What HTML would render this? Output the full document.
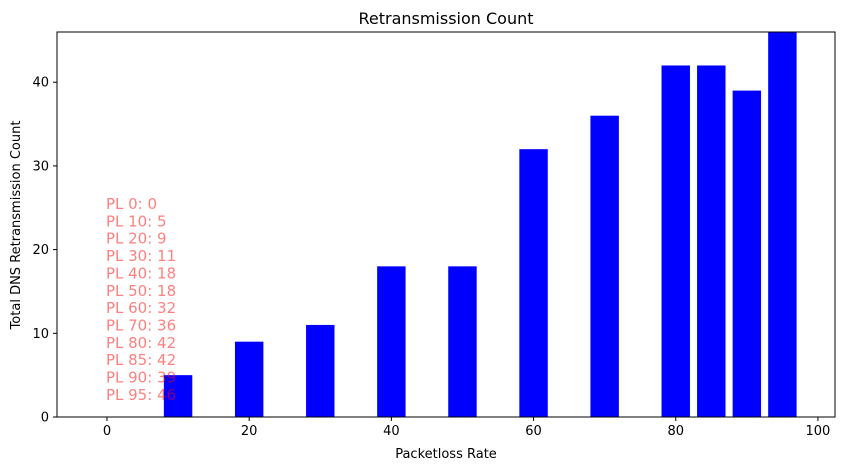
<!DOCTYPE html>
<html><head><meta charset="utf-8"><style>
body{margin:0;background:#fff;}
svg{display:block;font-family:"DejaVu Sans","Liberation Sans",sans-serif;}
</style></head><body>
<svg id="chart" width="841" height="470" xmlns="http://www.w3.org/2000/svg">
<rect width="841" height="470" fill="#fff"/>
<text x="446" y="24" font-size="16" text-anchor="middle">Retransmission Count</text>
<g id="plot"></g>
<text x="446" y="458" font-size="13" text-anchor="middle">Packetloss Rate</text>
<text transform="translate(20,225) rotate(-90)" font-size="13" text-anchor="middle">Total DNS Retransmission Count</text>
</svg>
<script>
const categories = [0,10,20,30,40,50,60,70,80,85,90,95];
const counts = [0,5,9,11,18,18,32,36,42,42,39,46];
const xTicks = [0,20,40,60,80,100];
const yTicks = [0,10,20,30,40];
const L=57,R=835,T=32,B=417;
const xMin=-7.03,xMax=102.4,yMax=46;
const xs=v=>L+(v-xMin)/(xMax-xMin)*(R-L);
const ys=v=>B-v/yMax*(B-T);
const NS="http://www.w3.org/2000/svg";
const g=document.getElementById('plot');
function mk(t,a){const e=document.createElementNS(NS,t);for(const k in a)e.setAttribute(k,a[k]);g.appendChild(e);return e;}
categories.forEach((c,i)=>{
  const e=mk('rect',{x:xs(c-2),y:ys(counts[i]),width:xs(c+2)-xs(c-2),height:B-ys(counts[i]),fill:'#0000ff'});
  
  
});
categories.forEach((c,i)=>{
  const t=mk('text',{x:xs(0)-1,y:209+i*17.36,'font-size':15,fill:'rgba(255,0,0,0.5)'});
  t.textContent='PL '+c+': '+counts[i];
  
  
});
const fr=mk('rect',{x:L,y:T,width:R-L,height:B-T,fill:'none',stroke:'#000','stroke-width':1});


xTicks.forEach(v=>{
  const x=xs(v);
  mk('line',{x1:x,x2:x,y1:B,y2:B+4,stroke:'#000'});
  const t=mk('text',{x:x,y:B+18,'font-size':13,'text-anchor':'middle'});
  t.textContent=v;
  
  
});
yTicks.forEach(v=>{
  const y=ys(v);
  mk('line',{x1:L-4,x2:L,y1:y,y2:y,stroke:'#000'});
  const t=mk('text',{x:L-8,y:y+4.5,'font-size':13,'text-anchor':'end'});
  t.textContent=v;
  
  
});
</script>
</body></html>
